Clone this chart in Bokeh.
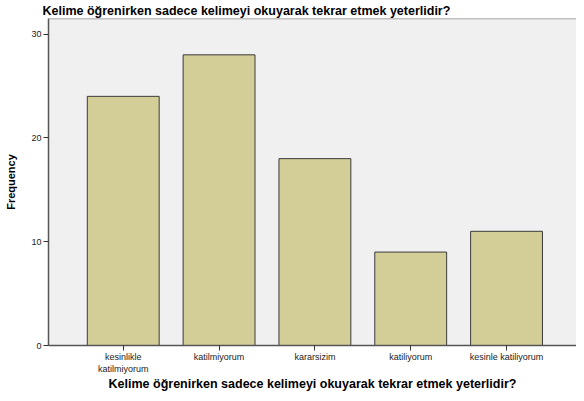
import numpy as np
from bokeh.plotting import figure
from bokeh.models import FixedTicker, Range1d, Span, ColumnDataSource
from bokeh.embed import file_html
from bokeh.resources import INLINE

categories = ["kesinlikle\nkatilmiyorum", "katilmiyorum", "kararsizim", "katiliyorum", "kesinle katiliyorum"]
frequencies = [24, 28, 18, 9, 11]
y_ticks = [0, 10, 20, 30]
title_text = "Kelime öğrenirken sadece kelimeyi okuyarak tekrar etmek yeterlidir?"

positions = list(range(1, len(categories) + 1))
src = ColumnDataSource(dict(x=positions, top=frequencies))

p = figure(width=576, height=393, output_backend="svg", toolbar_location=None,
           x_range=Range1d(0.22, 5.73), y_range=Range1d(0, 31.5),
           min_border_left=48, min_border_right=0, min_border_top=0, min_border_bottom=0)

p.title.text = title_text
p.title.text_font = "Liberation Sans"
p.title.text_font_size = "12.5px"
p.title.text_font_style = "bold"
p.title.text_color = "#000000"
p.title.offset = -6
p.title.standoff = 2

p.vbar(x="x", top="top", width=0.75, source=src, fill_color="#d3ce97",
       line_color="#3a3a3a", line_width=1)

p.background_fill_color = "#f0f0f0"
p.border_fill_color = "white"
p.outline_line_color = None
p.grid.visible = False

p.add_layout(Span(location=31.5, dimension="width", line_color="#8a8a8a", line_width=1.5))

p.yaxis.ticker = FixedTicker(ticks=y_ticks)
p.yaxis.axis_label = "Frequency"
p.yaxis.axis_label_text_font = "Liberation Sans"
p.yaxis.axis_label_text_font_size = "11px"
p.yaxis.axis_label_text_font_style = "bold"
p.yaxis.axis_label_standoff = 11
p.yaxis.major_label_text_font_size = "9px"
p.yaxis.major_label_standoff = 2

p.xaxis.ticker = FixedTicker(ticks=positions)
p.xaxis.major_label_overrides = {pos: cat for pos, cat in zip(positions, categories)}
p.xaxis.axis_label = title_text
p.xaxis.axis_label_text_font = "Liberation Sans"
p.xaxis.axis_label_text_font_size = "12.5px"
p.xaxis.axis_label_text_font_style = "bold"
p.xaxis.axis_label_standoff = 0
p.xaxis.major_label_text_font_size = "9px"
p.xaxis.major_label_standoff = 1

for ax in (p.xaxis, p.yaxis):
    ax.major_label_text_font = "Liberation Sans"
    ax.major_label_text_color = "#222222"
    ax.axis_line_color = "#555555"
    ax.axis_line_width = 1.5
    ax.major_tick_line_color = "#333333"
    ax.major_tick_in = 0
    ax.major_tick_out = 5
    ax.minor_tick_line_color = None
    ax.axis_label_text_color = "#000000"

open("out.html", "w").write(file_html(p, INLINE))
